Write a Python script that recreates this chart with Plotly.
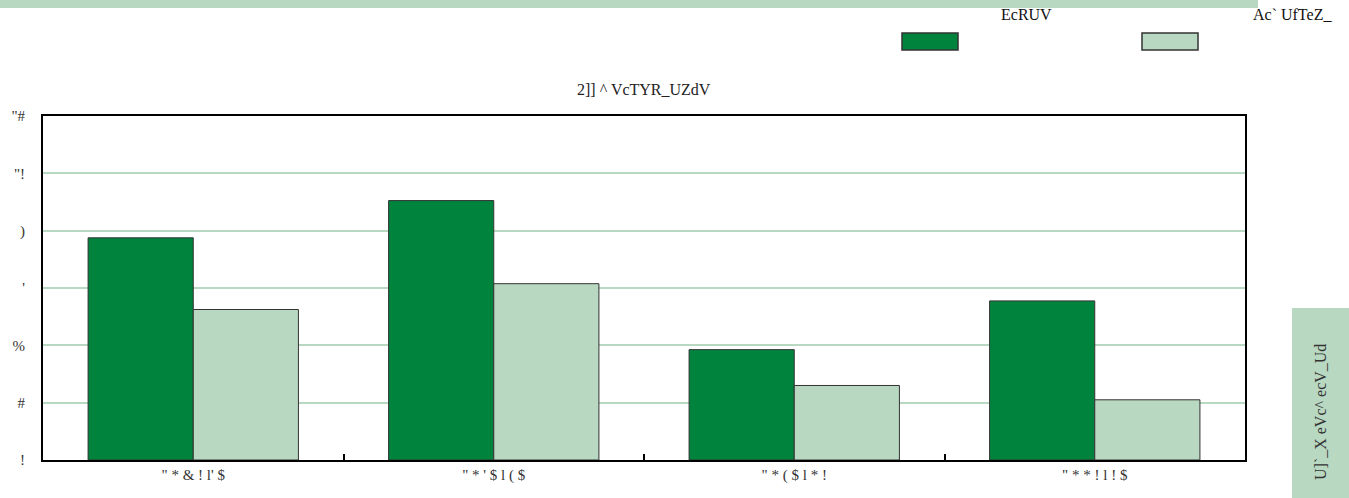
import plotly.graph_objects as go

categories = ["\" * & ! l' $", "\" * ' $ l ( $", "\" * ( $ l * !", "\" * * ! l ! $"]
trade = [7.75, 9.05, 3.85, 5.55]
production = [5.25, 6.15, 2.6, 2.1]
trade_name = "EcRUV"
production_name = "Ac` UfTeZ_"
title_text = "2]] ^ VcTYR_UZdV"
side_text = "U]`_X eVc^ ecV_Ud"
y_tickvals = [0, 2, 4, 6, 8, 10, 12]
y_ticktext = ["!", "#", "%", "'", ")", "\"!", "\"#"]

DARK = "#00843D"
LIGHT = "#B8D8C1"
FONT = "Liberation Serif"

W, H = 1349, 498
L, R, T, B = 43, 104, 116, 38
pw, ph = W - L - R, H - T - B

def px(x):
    return (x - L) / pw

def py(y):
    return (H - B - y) / ph

fig = go.Figure()
fig.add_trace(go.Bar(x=categories, y=trade, name=trade_name,
                     marker=dict(color=DARK, line=dict(color="#333333", width=1))))
fig.add_trace(go.Bar(x=categories, y=production, name=production_name,
                     marker=dict(color=LIGHT, line=dict(color="#333333", width=1))))

shapes = [
    dict(type="rect", xref="paper", yref="paper", x0=px(0), x1=px(1258), y0=py(0), y1=py(8),
         fillcolor=LIGHT, line=dict(width=0), layer="below"),
    dict(type="rect", xref="paper", yref="paper", x0=px(1292), x1=px(1349), y0=py(308), y1=py(498),
         fillcolor=LIGHT, line=dict(width=0), layer="below"),
    dict(type="rect", xref="paper", yref="paper", x0=px(902), x1=px(958), y0=py(33), y1=py(50),
         fillcolor=DARK, line=dict(color="#333333", width=1.5)),
    dict(type="rect", xref="paper", yref="paper", x0=px(1142), x1=px(1198), y0=py(33), y1=py(50),
         fillcolor=LIGHT, line=dict(color="#333333", width=1.5)),
]

annotations = [
    dict(text=title_text, xref="paper", yref="paper", x=px(644), y=py(89), showarrow=False,
         font=dict(family=FONT, size=16, color="#222222"), xanchor="center", yanchor="middle"),
    dict(text=trade_name, xref="paper", yref="paper", x=px(1026), y=py(15), showarrow=False,
         font=dict(family=FONT, size=16, color="#111111"), xanchor="center", yanchor="middle"),
    dict(text=production_name, xref="paper", yref="paper", x=px(1292), y=py(15), showarrow=False,
         font=dict(family=FONT, size=16, color="#111111"), xanchor="center", yanchor="middle"),
    dict(text=side_text, xref="paper", yref="paper", x=px(1320), y=py(412), showarrow=False,
         textangle=-90, font=dict(family=FONT, size=16, color="#333333"),
         xanchor="center", yanchor="middle"),
]

fig.update_layout(
    width=W, height=H,
    margin=dict(l=L, r=R, t=T, b=B),
    paper_bgcolor="white", plot_bgcolor="white",
    barmode="group", bargap=0.3, bargroupgap=0,
    showlegend=False,
    shapes=shapes, annotations=annotations,
    font=dict(family=FONT, size=14, color="#333333"),
)
fig.update_xaxes(showline=True, linecolor="black", linewidth=2, mirror=True,
                 ticks="inside", tickson="boundaries", ticklen=6, tickwidth=2, tickcolor="black",
                 showgrid=False, tickfont=dict(family=FONT, size=15, color="#333333"))
fig.update_yaxes(range=[0, 12], tickvals=y_tickvals, ticktext=y_ticktext,
                 showline=True, linecolor="black", linewidth=2, mirror=True,
                 showgrid=True, gridcolor=LIGHT, gridwidth=2, zeroline=False,
                 ticks="", ticklabelstandoff=13,
                 tickfont=dict(family=FONT, size=15, color="#333333"))

fig.write_html("out.html", config={"displayModeBar": False},
               post_script="document.body.style.margin='0';document.body.style.overflow='hidden';")
